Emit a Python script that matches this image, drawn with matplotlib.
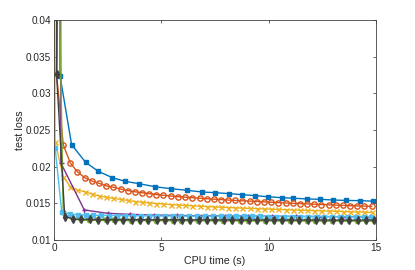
import matplotlib
matplotlib.use('Agg')
import matplotlib.pyplot as plt

plt.rcParams['font.family'] = ['Liberation Sans', 'DejaVu Sans']

# series data (CPU time in s, test loss)
blue_t = [0.12, 0.24, 0.28, 0.82, 1.47, 2.06, 2.72, 3.31, 3.96, 4.70, 5.43, 6.18, 6.89,
          7.51, 8.17, 8.77, 9.36, 9.98, 10.60, 11.15, 11.77, 12.40, 13.00, 13.60, 14.24, 14.87]
blue_loss = [0.0326, 0.08, 0.0324, 0.0230, 0.0206, 0.01937, 0.0185, 0.0180, 0.01768, 0.01727,
             0.0170, 0.01678, 0.01655, 0.01645, 0.01632, 0.01618, 0.01605, 0.0159, 0.01577,
             0.0157, 0.0156, 0.01555, 0.01545, 0.0154, 0.01536, 0.0153]

orange_t = [0.12, 0.43, 0.76, 1.09, 1.43, 1.76, 2.10, 2.43, 2.76, 3.10, 3.43, 3.77, 4.10,
            4.44, 4.77, 5.10, 5.44, 5.77, 6.11, 6.44, 6.78, 7.11, 7.44, 7.78, 8.11, 8.45,
            8.78, 9.11, 9.45, 9.78, 10.12, 10.45, 10.79, 11.12, 11.45, 11.79, 12.12, 12.46,
            12.79, 13.12, 13.46, 13.79, 14.13, 14.46, 14.80]
orange_loss = [0.0326, 0.0230, 0.0205, 0.0193, 0.0185, 0.01805, 0.01773, 0.01738, 0.0172,
               0.01695, 0.01675, 0.01658, 0.01645, 0.01632, 0.01620, 0.01610, 0.01600,
               0.01592, 0.01584, 0.01577, 0.01570, 0.01563, 0.01557, 0.01551, 0.01545,
               0.01540, 0.01535, 0.01530, 0.01525, 0.01520, 0.01515, 0.01510, 0.01505,
               0.01500, 0.01496, 0.01492, 0.01488, 0.01484, 0.01480, 0.01476, 0.01472,
               0.01468, 0.01465, 0.01462, 0.01458]

yellow_t = [0.0, 0.05, 0.43, 0.76, 1.09, 1.43, 1.76, 2.10, 2.43, 2.76, 3.10, 3.43, 3.77, 4.10,
            4.44, 4.77, 5.10, 5.44, 5.77, 6.11, 6.44, 6.78, 7.11, 7.44, 7.78, 8.11, 8.45,
            8.78, 9.11, 9.45, 9.78, 10.12, 10.45, 10.79, 11.12, 11.45, 11.79, 12.12, 12.46,
            12.79, 13.12, 13.46, 13.79, 14.13, 14.46, 14.80]
yellow_loss = [0.08, 0.0234, 0.01864, 0.01727, 0.0168, 0.01659, 0.01627, 0.0160, 0.01580,
               0.01568, 0.01555, 0.01540, 0.01525, 0.01515, 0.01505, 0.01497, 0.01490,
               0.01483, 0.01477, 0.01471, 0.01466, 0.01461, 0.01456, 0.01451, 0.01447,
               0.01443, 0.01439, 0.01435, 0.01431, 0.01427, 0.01423, 0.01420, 0.01416,
               0.01413, 0.01410, 0.01406, 0.01403, 0.01400, 0.01397, 0.01394, 0.01391,
               0.01388, 0.01385, 0.01382, 0.01379, 0.01376]

purple_t = [0.12, 0.29, 0.32, 1.41, 2.50, 3.55, 4.65, 5.75, 6.85, 7.95, 9.05, 10.15,
            11.25, 12.35, 13.45, 14.55]
purple_loss = [0.0326, 0.09, 0.0205, 0.0141, 0.01364, 0.0135, 0.0134, 0.01335, 0.0133,
               0.01328, 0.01326, 0.01324, 0.01322, 0.0132, 0.01318, 0.01316]

green_t = [0.04, 0.43, 0.82, 1.21, 1.60, 1.99, 2.38, 2.77, 3.16, 3.55, 3.94, 4.33, 4.72,
           5.11, 5.50, 5.89, 6.28, 6.67, 7.06, 7.45, 7.84, 8.23, 8.62, 9.01, 9.40, 9.79,
           10.18, 10.57, 10.96, 11.35, 11.74, 12.13, 12.52, 12.91, 13.30, 13.69, 14.08,
           14.47, 14.86]
green_loss = [0.08, 0.01364, 0.0129, 0.01272, 0.01268, 0.01267, 0.01266, 0.01266, 0.01265,
              0.01265, 0.01264, 0.01264, 0.01264, 0.01263, 0.01263, 0.01263, 0.01262,
              0.01262, 0.01262, 0.01261, 0.01261, 0.01261, 0.0126, 0.0126, 0.0126, 0.0126,
              0.01259, 0.01259, 0.01259, 0.01259, 0.01258, 0.01258, 0.01258, 0.01258,
              0.01257, 0.01257, 0.01257, 0.01257, 0.01256]

lblue_t = [0.05, 0.36, 0.73, 1.10, 1.47, 1.84, 2.21, 2.58, 2.95, 3.32, 3.69, 4.06, 4.43,
           4.80, 5.17, 5.54, 5.91, 6.28, 6.65, 7.02, 7.39, 7.76, 8.13, 8.50, 8.87, 9.24,
           9.61, 9.98, 10.35, 10.72, 11.09, 11.46, 11.83, 12.20, 12.57, 12.94, 13.31,
           13.68, 14.05, 14.42, 14.79]
lblue_loss = [0.0226, 0.01386, 0.01355, 0.01345, 0.0134, 0.01338, 0.01336, 0.01334,
              0.01332, 0.0133, 0.0133, 0.01329, 0.01328, 0.01327, 0.01327, 0.01326,
              0.01326, 0.01325, 0.01325, 0.01324, 0.01324, 0.01323, 0.01323, 0.01322,
              0.01322, 0.01321, 0.01321, 0.0132, 0.0132, 0.0132, 0.01319, 0.01319,
              0.01319, 0.01318, 0.01318, 0.01318, 0.01317, 0.01317, 0.01317, 0.01316,
              0.01316]

gray_t = [0.14, 0.12, 0.50, 0.89, 1.28, 1.67, 2.06, 2.45, 2.84, 3.23, 3.62, 4.01, 4.40,
          4.79, 5.18, 5.57, 5.96, 6.35, 6.74, 7.13, 7.52, 7.91, 8.30, 8.69, 9.08, 9.47,
          9.86, 10.25, 10.64, 11.03, 11.42, 11.81, 12.20, 12.59, 12.98, 13.37, 13.76,
          14.15, 14.54, 14.93]
gray_loss = [0.09, 0.0326, 0.0132, 0.01286, 0.01282, 0.0128, 0.01279, 0.01278, 0.01278,
             0.01277, 0.01277, 0.01277, 0.01276, 0.01276, 0.01276, 0.01275, 0.01275,
             0.01275, 0.01275, 0.01274, 0.01274, 0.01274, 0.01274, 0.01274, 0.01273,
             0.01273, 0.01273, 0.01273, 0.01273, 0.01272, 0.01272, 0.01272, 0.01272,
             0.01272, 0.01272, 0.01271, 0.01271, 0.01271, 0.01271, 0.01271]

# (t, loss, colour, marker, marker size, filled)
series = [
    (blue_t, blue_loss, (0, 0.447, 0.741), 's', 3.2, True),
    (orange_t, orange_loss, (0.85, 0.325, 0.098), 'o', 3.8, False),
    (yellow_t, yellow_loss, (0.929, 0.694, 0.125), 'x', 3.6, False),
    (purple_t, purple_loss, (0.494, 0.184, 0.556), '+', 3.6, False),
    (green_t, green_loss, (0.466, 0.674, 0.188), 'v', 3.4, False),
    (lblue_t, lblue_loss, (0.301, 0.745, 0.933), 's', 3.4, True),
    (gray_t, gray_loss, (0.25, 0.25, 0.25), 'd', 4.2, True),
]

fig = plt.figure(figsize=(4.15, 2.7), dpi=100)
ax = fig.add_axes([54 / 415, 30 / 270, 322 / 415, 220 / 270])

for t, loss, c, m, ms, filled in series:
    ax.plot(t, loss, color=c, marker=m, markersize=ms,
            markerfacecolor=c if filled else 'none',
            markeredgewidth=1.0, linewidth=1.0)

ax.set_xlim(0, 15)
ax.set_ylim(0.01, 0.04)
ax.set_xticks([0, 5, 10, 15])
ax.set_yticks([0.01, 0.015, 0.02, 0.025, 0.03, 0.035, 0.04])
ax.set_yticklabels(['0.01', '0.015', '0.02', '0.025', '0.03', '0.035', '0.04'])
ax.tick_params(direction='in', length=2.5, width=0.5, top=True, right=True,
               labelsize=7.2, colors='#262626', pad=2)
for sp in ax.spines.values():
    sp.set_linewidth(0.6)
    sp.set_color('#404040')

ax.set_xlabel('CPU time (s)', fontsize=7.7, color='#262626', labelpad=2)
ax.set_ylabel('test loss', fontsize=7.7, color='#262626', labelpad=1)

fig.savefig('out.png', dpi=100)
